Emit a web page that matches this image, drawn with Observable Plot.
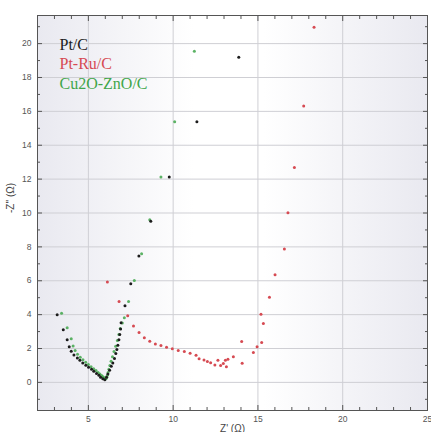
<!DOCTYPE html>
<html>
<head>
<meta charset="utf-8">
<script src="https://cdn.jsdelivr.net/npm/d3@7"></script>
<script src="https://cdn.jsdelivr.net/npm/@observablehq/plot@0.6"></script>
<style>
html,body{margin:0;padding:0;background:#fff;}
#chart svg{display:block;}
#chart svg .legend-serif text{font-family:"Liberation Serif","Times New Roman","DejaVu Serif",serif;}
</style>
</head>
<body>
<div id="chart"></div>
<script>
// Series names and colours
const seriesNames = ["Pt/C", "Pt-Ru/C", "Cu2O-ZnO/C"];
const seriesColors = ["#1c1c1c", "#d64a52", "#3fa64a"];

// Pt/C
const ptcX = [3.16,3.52,3.75,3.87,3.99,4.15,4.35,4.50,4.67,4.85,5.01,5.19,5.32,5.48,5.62,5.72,5.85,5.97,6.07,6.15,6.25,6.35,6.44,6.54,6.62,6.68,6.74,6.80,6.85,6.90,6.93,7.16,7.50,7.98,8.68,9.77,11.40,13.87];
const ptcY = [3.99,3.10,2.51,2.10,1.84,1.62,1.44,1.31,1.15,1.01,0.89,0.77,0.65,0.52,0.42,0.30,0.22,0.16,0.30,0.50,0.71,0.95,1.15,1.41,1.70,1.94,2.19,2.51,2.82,3.15,3.52,4.53,5.82,7.46,9.52,12.13,15.39,19.19];

// Pt-Ru/C
const ptruX = [6.12,6.81,7.32,7.66,7.99,8.30,8.62,8.95,9.28,9.61,9.95,10.30,10.66,11.00,11.35,11.53,11.82,12.02,12.21,12.46,12.64,12.80,12.96,13.08,13.14,13.23,13.55,14.04,14.07,14.73,14.95,15.22,15.18,15.32,15.68,16.01,16.56,16.77,17.15,17.70,18.31];
const ptruY = [5.92,4.77,3.93,3.33,2.94,2.64,2.43,2.27,2.18,2.08,1.99,1.88,1.82,1.72,1.60,1.40,1.32,1.24,1.16,1.02,1.31,0.99,1.11,1.31,0.93,1.36,1.52,2.41,1.13,1.76,2.11,2.35,4.02,3.48,5.02,6.35,7.87,10.01,12.68,16.32,20.97];

// Cu2O-ZnO/C
const cuX = [3.42,3.75,3.99,4.10,4.22,4.36,4.52,4.68,4.84,5.00,5.16,5.31,5.45,5.57,5.68,5.78,5.86,5.93,5.99,6.04,6.08,6.12,6.16,6.21,6.27,6.34,6.42,6.51,6.61,6.71,6.80,6.88,7.00,7.12,7.37,7.71,8.14,8.62,9.28,10.09,11.25];
const cuY = [4.08,3.22,2.57,2.15,1.88,1.66,1.48,1.33,1.19,1.06,0.93,0.81,0.70,0.59,0.49,0.40,0.33,0.27,0.23,0.22,0.30,0.42,0.58,0.78,1.00,1.25,1.52,1.82,2.14,2.48,2.82,3.18,3.50,3.81,4.77,6.01,7.60,9.60,12.13,15.39,19.55];

// Tick values
const xMajor = [5, 10, 15, 20, 25];
const xMinor = [3,4,6,7,8,9,11,12,13,14,16,17,18,19,21,22,23,24];
const yMajor = [0,2,4,6,8,10,12,14,16,18,20];
const yMinor = [-1,1,3,5,7,9,11,13,15,17,19,21];

const toRows = (xs, ys, s) => xs.map((x, i) => ({x, y: ys[i], s}));
const ptc = toRows(ptcX, ptcY, seriesNames[0]);
const ptru = toRows(ptruX, ptruY, seriesNames[1]);
const cu = toRows(cuX, cuY, seriesNames[2]);

const axisFont = {fontFamily: "Liberation Sans, Arial, sans-serif", fontSize: 8.5};
const tickStroke = "#555";
const legendFont = {className: "legend-serif", fontFamily: "'Liberation Serif', 'Times New Roman', serif", fontSize: 16, frameAnchor: "top-left", textAnchor: "start", dx: 22};

const chart = Plot.plot({
  width: 431,
  height: 432,
  marginLeft: 37,
  marginTop: 15,
  marginRight: 4,
  marginBottom: 22,
  style: {background: "#fff", overflow: "hidden"},
  x: {domain: [2, 25], label: null},
  y: {domain: [-1.66, 21.66], label: null},
  marks: [
    Plot.frame({fill: "url(#bgGrad)", stroke: null}),
    Plot.gridX(xMajor.slice(0, 4), {stroke: "#cfcfd4", strokeOpacity: 1, strokeWidth: 1}),
    Plot.gridY(yMajor, {stroke: "#cfcfd4", strokeOpacity: 1, strokeWidth: 1}),
    // tick labels
    Plot.axisX(xMajor, {anchor: "bottom", tickSize: 0, tickPadding: 5, fill: "#555", ...axisFont}),
    Plot.axisY(yMajor, {anchor: "left", tickSize: 0, tickPadding: 6, fill: "#555", ...axisFont}),
    // inward ticks
    Plot.axisX(xMajor, {anchor: "bottom", tickSize: -5, text: null, stroke: tickStroke}),
    Plot.axisX(xMinor, {anchor: "bottom", tickSize: -3, text: null, stroke: tickStroke}),
    Plot.axisX(xMajor, {anchor: "top", tickSize: -5, text: null, stroke: tickStroke}),
    Plot.axisX(xMinor, {anchor: "top", tickSize: -3, text: null, stroke: tickStroke}),
    Plot.axisY(yMajor, {anchor: "left", tickSize: -5, text: null, stroke: tickStroke}),
    Plot.axisY(yMinor, {anchor: "left", tickSize: -3, text: null, stroke: tickStroke}),
    Plot.axisY(yMajor, {anchor: "right", tickSize: -5, text: null, stroke: tickStroke}),
    Plot.axisY(yMinor, {anchor: "right", tickSize: -3, text: null, stroke: tickStroke}),
    Plot.frame({stroke: "#555", strokeWidth: 1}),
    // data
    Plot.dot(cu, {x: "x", y: "y", r: 1.5, fill: seriesColors[2], stroke: null, fillOpacity: 0.85}),
    Plot.dot(ptc, {x: "x", y: "y", r: 1.5, fill: seriesColors[0], stroke: null}),
    Plot.dot(ptru, {x: "x", y: "y", r: 1.5, fill: seriesColors[1], stroke: null}),
    // legend
    Plot.text([seriesNames[0]], {...legendFont, fill: seriesColors[0], dy: 23}),
    Plot.text([seriesNames[1]], {...legendFont, fill: seriesColors[1], dy: 42.5}),
    Plot.text([seriesNames[2]], {...legendFont, fill: seriesColors[2], dy: 62}),
    // axis titles
    Plot.text(["Z' (Ω)"], {frameAnchor: "bottom", dy: 21, fontFamily: "Liberation Sans, Arial, sans-serif", fontSize: 10, fill: "#444"}),
    Plot.text(["-Z'' (Ω)"], {frameAnchor: "left", dx: -27, rotate: -90, fontFamily: "Liberation Sans, Arial, sans-serif", fontSize: 10, fill: "#444"})
  ]
});

// background gradient
const svgNS = "http://www.w3.org/2000/svg";
const defs = document.createElementNS(svgNS, "defs");
const grad = document.createElementNS(svgNS, "linearGradient");
grad.setAttribute("id", "bgGrad");
grad.setAttribute("x1", "0"); grad.setAttribute("x2", "1");
grad.setAttribute("y1", "0"); grad.setAttribute("y2", "0");
[["0%", "#e9e9f0"], ["40%", "#ffffff"], ["58%", "#ffffff"], ["100%", "#e9e9f0"]].forEach(([o, c]) => {
  const st = document.createElementNS(svgNS, "stop");
  st.setAttribute("offset", o); st.setAttribute("stop-color", c);
  grad.appendChild(st);
});
defs.appendChild(grad);
chart.insertBefore(defs, chart.firstChild);
document.getElementById("chart").appendChild(chart);
</script>
</body>
</html>
